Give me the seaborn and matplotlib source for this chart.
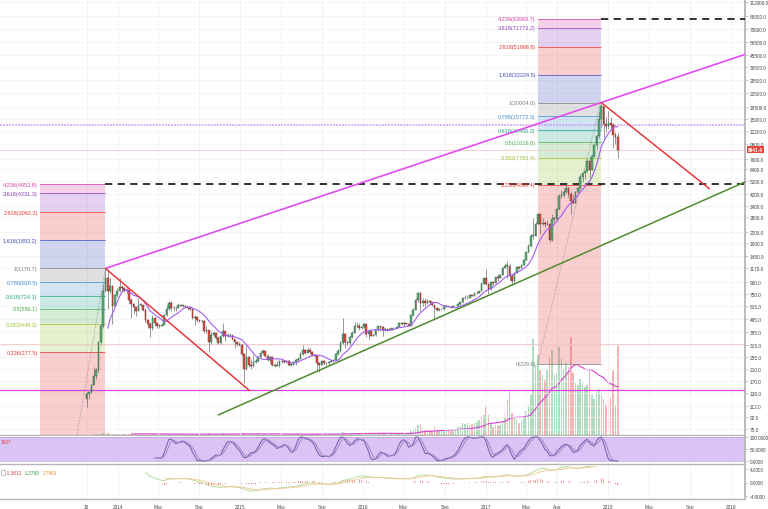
import numpy as np
import pandas as pd
import matplotlib
matplotlib.use("Agg")
import matplotlib.pyplot as plt
import matplotlib.dates as mdates
from matplotlib.ticker import FixedLocator, FixedFormatter, NullLocator
import seaborn as sns

# ---------------- data (weekly BTC/USD, week start Monday) ----------------
FIRST_WEEK = "2013-09-30"
FIRST_OPEN = 125.0

CLOSE = [
    # 2013
    137, 140, 160, 185, 205, 330, 440, 800, 1000, 790, 870, 620, 740, 800,
    # 2014
    850, 830, 800, 810, 680, 640, 600, 560, 630, 630, 575, 480, 450, 420, 500, 460, 440, 440, 445, 525,
    580, 650, 590, 595, 590, 630, 620, 620, 600, 590, 585, 500, 510, 480, 475, 475, 400, 410, 330, 375,
    390, 355, 325, 365, 400, 365, 375, 375, 350, 330, 320, 315,
    # 2015
    270, 210, 255, 225, 220, 235, 240, 255, 275, 285, 260, 245, 255, 223, 222, 225, 240, 240, 237, 240,
    225, 225, 235, 245, 250, 270, 290, 275, 290, 280, 265, 260, 230, 225, 240, 230, 230, 235, 240, 245,
    270, 285, 325, 380, 330, 325, 360, 390, 435, 440, 420, 430,
    # 2016
    450, 380, 400, 370, 375, 405, 435, 430, 410, 415, 410, 415, 420, 420, 430, 460, 450, 460, 455, 440,
    525, 575, 680, 765, 650, 670, 650, 665, 660, 625, 590, 570, 580, 580, 605, 610, 605, 600, 612, 615,
    640, 655, 700, 700, 705, 740, 730, 765, 770, 790, 900, 995,
    # 2017
    900, 820, 920, 915, 1010, 995, 1050, 1180, 1230, 1230, 1020, 950, 1085, 1200, 1180, 1250, 1350, 1550,
    1730, 2050, 2050, 2500, 2950, 2500, 2550, 2500, 2500, 1900, 2750, 2750, 3250, 4050, 4100, 4350, 4600,
    4200, 3700, 3600, 4350, 4600, 5600, 5950, 6150, 7400, 6300, 8000, 9700, 11200, 15000, 19000, 13800, 13500,
    # 2018
    14200, 13600, 11500, 11100, 8941.4,
]
HIGH = [
    140, 142, 162, 215, 212, 340, 450, 900, 1170.7, 1150, 1000, 880, 760, 830,
    1000, 880, 850, 830, 830, 700, 650, 600, 700, 650, 630, 585, 490, 470, 530, 510, 460, 450, 450, 530,
    630, 670, 665, 610, 605, 645, 635, 630, 625, 600, 595, 590, 525, 515, 485, 485, 480, 440, 410, 400,
    400, 390, 365, 370, 460, 400, 390, 385, 375, 350, 335, 330,
    320, 275, 310, 260, 245, 265, 250, 260, 290, 296, 290, 270, 260, 260, 230, 238, 245, 248, 244, 245,
    242, 230, 238, 250, 258, 282, 315, 295, 305, 298, 285, 270, 260, 235, 245, 245, 235, 240, 245, 250,
    275, 295, 335, 500, 390, 340, 370, 400, 470, 465, 460, 435,
    460, 455, 410, 400, 380, 410, 440, 440, 440, 420, 420, 420, 425, 425, 432, 465, 468, 465, 460, 458,
    530, 590, 700, 780, 780, 700, 700, 690, 680, 660, 625, 600, 585, 585, 610, 630, 612, 610, 615, 620,
    645, 660, 720, 745, 740, 750, 745, 770, 775, 795, 920, 1000,
    1150, 910, 930, 925, 1030, 1060, 1065, 1190, 1290, 1320, 1260, 1060, 1090, 1210, 1220, 1265, 1355, 1560,
    1790, 2100, 2760, 2570, 2990, 2980, 2780, 2640, 2700, 2550, 2950, 2800, 3300, 4200, 4480, 4450, 4980,
    4750, 4400, 4100, 4400, 4650, 5850, 6000, 6200, 7600, 7900, 8100, 9800, 11400, 17000, 20004, 19000, 15600,
    17200, 15500, 14100, 12000, 11800,
]
LOW = [
    110, 125, 138, 160, 175, 200, 315, 420, 780, 580, 770, 455, 610, 720,
    780, 790, 780, 770, 650, 500, 540, 520, 560, 610, 560, 470, 420, 360, 410, 440, 420, 420, 435, 445,
    520, 575, 560, 560, 565, 590, 610, 605, 590, 575, 575, 490, 445, 470, 465, 465, 390, 390, 280, 320,
    370, 350, 320, 320, 360, 340, 360, 360, 345, 300, 310, 310,
    260, 165, 205, 215, 210, 215, 230, 235, 255, 270, 255, 240, 235, 220, 215, 220, 218, 232, 232, 233,
    222, 220, 225, 225, 240, 250, 265, 270, 275, 275, 260, 255, 200, 200, 225, 225, 225, 225, 235, 235,
    245, 265, 280, 320, 300, 315, 315, 355, 385, 430, 410, 415,
    425, 360, 350, 365, 365, 370, 400, 400, 370, 400, 405, 405, 410, 415, 420, 428, 445, 440, 450, 435,
    440, 520, 570, 660, 560, 620, 620, 640, 650, 620, 480, 565, 565, 570, 570, 600, 600, 590, 600, 605,
    615, 630, 650, 690, 690, 700, 725, 725, 755, 765, 790, 890,
    880, 750, 810, 880, 915, 940, 985, 1050, 1170, 1000, 960, 890, 930, 1075, 1160, 1180, 1245, 1350,
    1530, 1700, 1950, 2040, 2500, 2100, 2480, 2360, 2450, 1850, 1880, 2600, 2650, 3200, 3900, 3980, 4300,
    4000, 2970, 3550, 3600, 4150, 4500, 5100, 5400, 6100, 5500, 6300, 7900, 9000, 11000, 13000, 11000, 12000,
    12800, 12800, 9200, 9900, 7740,
]
VOLUME = [
    0.3, 0.3, 0.4, 0.5, 0.5, 0.8, 1.0, 1.5, 1.8, 1.6, 1.2, 1.4, 0.9, 0.8,
    1.2, 1.0, 0.9, 0.9, 1.1, 1.6, 1.3, 1.1, 1.0, 0.8, 0.9, 1.1, 1.0, 1.3, 1.2, 0.9, 0.8, 0.7, 0.6, 0.9,
    1.1, 1.2, 1.0, 0.8, 0.7, 0.7, 0.6, 0.6, 0.6, 0.6, 0.6, 0.9, 1.0, 0.8, 0.7, 0.7, 1.2, 1.1, 1.6, 1.4,
    1.0, 0.9, 1.0, 1.2, 1.5, 1.1, 0.9, 0.8, 0.9, 1.1, 0.9, 0.8,
    1.3, 2.4, 1.9, 1.2, 1.0, 1.0, 0.9, 0.9, 1.1, 1.0, 1.0, 0.9, 0.8, 1.0, 0.8, 0.7, 0.8, 0.7, 0.7, 0.6,
    0.7, 0.7, 0.7, 0.8, 0.9, 1.1, 1.4, 1.2, 1.0, 0.9, 0.9, 0.8, 1.6, 1.2, 0.9, 0.8, 0.7, 0.7, 0.8, 0.9,
    1.1, 1.3, 1.8, 3.2, 2.4, 1.5, 1.4, 1.6, 2.0, 1.8, 1.5, 1.3,
    1.6, 2.2, 2.0, 1.6, 1.4, 1.5, 1.6, 1.7, 1.8, 1.5, 1.4, 1.3, 1.3, 1.3, 1.4, 1.8, 1.7, 1.6, 1.6, 1.6,
    3.5, 4.5, 7.0, 10.0, 11.0, 6.5, 5.0, 5.5, 4.5, 4.0, 7.5, 5.0, 4.0, 3.5, 4.0, 4.0, 3.5, 3.5, 3.5, 6.0,
    8.0, 9.0, 12.0, 11.0, 12.0, 10.0, 11.0, 12.0, 13.0, 15.0, 18.0, 20.0,
    28, 20, 12, 8, 10, 9, 10, 14, 18, 35, 45, 22, 18, 16, 12, 14, 18, 24, 30, 40, 96, 70, 80, 65, 60, 55,
    65, 78, 85, 60, 62, 88, 78, 65, 72, 68, 98, 62, 52, 50, 56, 52, 48, 50, 66, 40, 36, 45, 46, 40, 36, 30,
    35, 38, 64, 30, 91,
]

PRICE_TICKS = [75, 92, 112, 138, 170, 210, 255, 315, 395, 495, 615, 750, 930, 1170, 1450, 1800, 2200,
               2800, 3400, 4200, 5200, 6400, 7600, 9800, 12200, 15000, 18500, 23500, 29500, 36500,
               45500, 56500, 70600, 88000, 112000]
LAST_PRICE = 8941.4

X_TICK_DATES = ["2013-09-30", "2014-01-01", "2014-05-01", "2014-09-01", "2015-01-01", "2015-05-01",
                "2015-09-01", "2016-01-01", "2016-05-01", "2016-09-01", "2017-01-01", "2017-05-01",
                "2017-08-01", "2018-01-01", "2018-05-01", "2018-09-01", "2019-01-01"]
X_TICK_LABELS = ["30", "2014", "May", "Sep", "2015", "May", "Sep", "2016", "May", "Sep", "2017",
                 "May", "Aug", "2018", "May", "Sep", "2019"]
X_RANGE = ("2013-01-15", "2019-02-12")

FIB_RATIOS = ["0", "0.236", "0.382", "0.5", "0.618", "0.786", "1", "1.618", "2.618", "3.618", "4.236"]
FIB_COLORS = ["#808080", "#e53935", "#9bc232", "#4caf50", "#26a68a", "#3f8fd2", "#808080",
              "#3f4fbf", "#e53935", "#9040c0", "#d6409f"]
LEFT_FIB_PRICES = [1.6, 277.5, 448.2, 586.1, 724.1, 920.5, 1170.7, 1893.2, 3062.2, 4231.3, 4953.8]
RIGHT_FIB_PRICES = [229.6, 4896.4, 7783.4, 10116.8, 12450.2, 15772.3, 20004.0, 32224.5, 51998.8,
                    71773.2, 83993.7]
LEFT_FIB_SPAN = ("2013-05-13", "2013-11-25")
RIGHT_FIB_SPAN = ("2017-06-05", "2017-12-09")

TREND_MAGENTA = (["2013-11-25", "2019-02-12"], [1170.7, 45600])
TREND_RED_1 = (["2013-11-25", "2015-01-29"], [1170.7, 144])
TREND_RED_2 = (["2017-12-11", "2018-10-30"], [20004.0, 4560])
TREND_GREEN = (["2014-10-26", "2019-02-12"], [95, 5140])
H_MAGENTA = 147
H_LAVENDER = 13620
H_PINK = 320

MACD_LEGEND = ["-1.3612", "1.3789", "2.7401"]
STOCH_LEGEND = "7637"

# ---------------- frame ----------------
def dn(s):
    return mdates.date2num(pd.Timestamp(s))

dates = pd.date_range(FIRST_WEEK, periods=len(CLOSE), freq="7D")
df = pd.DataFrame({"x": mdates.date2num(dates), "close": CLOSE, "high": HIGH, "low": LOW,
                   "vol": VOLUME})
df["open"] = df["close"].shift(1).fillna(FIRST_OPEN)
df["high"] = df[["high", "open", "close"]].max(axis=1)
df["low"] = df[["low", "open", "close"]].min(axis=1)
df["up"] = df["close"] >= df["open"]
df["ma"] = df["close"].rolling(10).mean()
df["vma"] = df["vol"].rolling(20).mean()

delta = df["close"].diff()
gain = delta.clip(lower=0).ewm(alpha=1 / 14, adjust=False, min_periods=14).mean()
loss = (-delta.clip(upper=0)).ewm(alpha=1 / 14, adjust=False, min_periods=14).mean()
rsi = 100 - 100 / (1 + gain / loss)
rlo, rhi = rsi.rolling(14).min(), rsi.rolling(14).max()
stoch = 100 * (rsi - rlo) / (rhi - rlo)
df["k"] = stoch.rolling(3).mean()
df["d"] = df["k"].rolling(3).mean()

lp = 14 * np.log(df["close"])
e12 = lp.ewm(span=12, adjust=False, min_periods=12).mean()
e26 = lp.ewm(span=26, adjust=False, min_periods=26).mean()
df["macd"] = e12 - e26
df["signal"] = df["macd"].ewm(span=9, adjust=False, min_periods=9).mean()
df["hist"] = df["macd"] - df["signal"]

# ---------------- figure ----------------
sns.set_theme(style="white")
plt.rcParams["font.family"] = ["Liberation Sans", "DejaVu Sans"]

W, H = 768, 510
fig = plt.figure(figsize=(W / 100, H / 100), dpi=100, facecolor="white")
right = 745 / W
ax = fig.add_axes([0, 1 - 436 / H, right, 436 / H])
ax_st = fig.add_axes([0, 1 - 465 / H, right, 28 / H], sharex=ax)
ax_md = fig.add_axes([0, 1 - 500 / H, right, 33 / H], sharex=ax)

# volume overlay axis (created first so the price axis keeps its right-hand ticks)
ax_v = ax.twinx()

TICK_FS = 3.4
AX_GRAY = "#b5b5b5"
GRID = "#f1f1f1"

for a in (ax, ax_st, ax_md):
    for s in ("top", "left"):
        a.spines[s].set_visible(False)
    a.spines["right"].set_color(AX_GRAY)
    a.spines["right"].set_linewidth(1.3)
    a.spines["bottom"].set_color(AX_GRAY)
    a.spines["bottom"].set_linewidth(1.0)
    a.yaxis.tick_right()
    a.yaxis.set_label_position("right")
    a.tick_params(axis="y", length=2, width=0.5, color=AX_GRAY, labelsize=TICK_FS,
                  labelcolor="#444444", pad=1.5, labelright=True, labelleft=False)
    a.tick_params(axis="x", length=2, width=0.5, color=AX_GRAY, labelsize=TICK_FS,
                  labelcolor="#444444", pad=1.5)
    a.set_xlim(dn(X_RANGE[0]), dn(X_RANGE[1]))

xt = [dn(d) for d in X_TICK_DATES]
for a in (ax, ax_st, ax_md):
    for v in xt:
        a.axvline(v, color=GRID, lw=0.6, zorder=0)
ax_md.xaxis.set_major_locator(FixedLocator(xt))
ax_md.xaxis.set_major_formatter(FixedFormatter(X_TICK_LABELS))
ax.tick_params(axis="x", labelbottom=False, length=0)
ax_st.tick_params(axis="x", labelbottom=False, length=0)

# ---- main price pane ----
ax.set_yscale("log")
ax.set_ylim(67.6, 117800)
ax.yaxis.set_major_locator(FixedLocator(PRICE_TICKS))
ax.yaxis.set_major_formatter(FixedFormatter([f"{v:.1f}" for v in PRICE_TICKS]))
ax.yaxis.set_minor_locator(NullLocator())
for v in PRICE_TICKS:
    ax.axhline(v, color=GRID, lw=0.5, zorder=0)
ax.patch.set_visible(False)

# volume (drawn beneath the price drawings)
ax_v.set_zorder(ax.get_zorder() - 1)
ax_v.patch.set_visible(False)
ax_v.set_ylim(0, 436)
ax_v.set_yticks([])
for s in ax_v.spines.values():
    s.set_visible(False)
vcol = np.where(df["up"], "#9fd8b2", "#f5a5a5")
ax_v.bar(df["x"], df["vol"], width=4.6, color=vcol, alpha=0.85, linewidth=0)
sns.lineplot(x=df["x"], y=df["vma"], ax=ax_v, color="#d63fd6", linewidth=0.8, estimator=None)
ax_v.set_xlabel(""); ax_v.set_ylabel("")

# fibonacci boxes
def fib_box(span, prices, show_zero_label):
    x0, x1 = dn(span[0]), dn(span[1])
    for i in range(1, len(prices)):
        ax.fill_between([x0, x1], prices[i - 1], prices[i], color=FIB_COLORS[i], alpha=0.24,
                        linewidth=0, zorder=1)
    for i, p in enumerate(prices):
        if i == 0 and not show_zero_label:
            continue
        ax.plot([x0, x1], [p, p], color=FIB_COLORS[i], lw=0.6, alpha=0.85, zorder=1.5)
        ax.annotate(f"{FIB_RATIOS[i]}({p:.1f})", xy=(x0, p), xytext=(-1.5, 0),
                    textcoords="offset points", ha="right", va="center", fontsize=4.0,
                    color=FIB_COLORS[i], zorder=5)
    ax.plot([x0, x1], [prices[0], prices[6]], color="#9a9a9a", lw=0.5, ls=(0, (2, 1.5)),
            zorder=1.6)
    ax.plot([x1, dn(X_RANGE[1])], [prices[-1], prices[-1]], color="#222222", lw=1.3,
            ls=(0, (4, 3)), zorder=4)

fib_box(LEFT_FIB_SPAN, LEFT_FIB_PRICES, False)
fib_box(RIGHT_FIB_SPAN, RIGHT_FIB_PRICES, True)

# horizontal lines
ax.axhline(H_LAVENDER, color="#c79af2", lw=1.1, ls=(0, (1.2, 0.8)), zorder=3)
ax.axhline(H_MAGENTA, color="#e040e8", lw=0.9, zorder=3)
ax.axhline(H_PINK, color="#f3c4c4", lw=0.6, zorder=2)
ax.axhline(LAST_PRICE, color="#f6c9c4", lw=0.6, zorder=2)

# candles
up = df[df["up"]]
dnn = df[~df["up"]]
ax.vlines(df["x"], df["low"], df["high"], color="#6f6f6f", lw=0.5, zorder=6)
for part, fc, ec in ((up, "#5fae7a", "#1f5a34"), (dnn, "#d9534a", "#6b1a14")):
    body_lo = part[["open", "close"]].min(axis=1)
    body_hi = part[["open", "close"]].max(axis=1)
    hgt = np.maximum(body_hi - body_lo, body_lo * 0.006)
    ax.bar(part["x"], hgt, bottom=body_lo, width=4.8, color=fc, edgecolor=ec, linewidth=0.3,
           zorder=7)
sns.lineplot(x=df["x"], y=df["ma"], ax=ax, color="#a35cf0", linewidth=0.8, estimator=None,
             zorder=8)
ax.set_xlabel(""); ax.set_ylabel("")

# trend lines
for (ds, ps), col, lw in ((TREND_MAGENTA, "#e34cf0", 1.2), (TREND_RED_1, "#e8383d", 1.1),
                          (TREND_RED_2, "#e8383d", 1.1), (TREND_GREEN, "#4f8a2e", 1.1)):
    ax.plot([dn(d) for d in ds], ps, color=col, lw=lw, zorder=9, solid_capstyle="butt")

# last price tag
ax.annotate(f"{LAST_PRICE:.1f}", xy=(1.0, LAST_PRICE), xycoords=("axes fraction", "data"),
            xytext=(2.2, 0), textcoords="offset points", ha="left", va="center",
            fontsize=TICK_FS, color="white", fontweight="bold", annotation_clip=False,
            bbox=dict(boxstyle="square,pad=0.25", fc="#e5473c", ec="none"), zorder=20)

# ---- stochastic RSI pane ----
ax_st.set_ylim(-12.5, 104.2)
ax_st.axhspan(0, 100, color="#dcc3f5", lw=0, zorder=0.5)
ax_st.axhline(100, color="#b9a6d6", lw=0.5, zorder=1)
ax_st.axhline(0, color="#b9a6d6", lw=0.5, zorder=1)
sns.lineplot(x=df["x"], y=df["k"], ax=ax_st, color="#6f5aa8", linewidth=0.7, estimator=None)
sns.lineplot(x=df["x"], y=df["d"], ax=ax_st, color="#9a88c6", linewidth=0.7, estimator=None)
ax_st.set_yticks([0, 50, 100])
ax_st.set_yticklabels(["0.0000", "50.0000", "100.0000"])
ax_st.set_xlabel(""); ax_st.set_ylabel("")
ax_st.text(0.001, 0.8, STOCH_LEGEND, transform=ax_st.transAxes, fontsize=TICK_FS,
           color="#e53935", va="center", ha="left")

# ---- MACD pane ----
ax_md.set_ylim(-4.9, 4.9)
hcol = np.where(df["hist"] >= 0, "#f3a0a0", "#ef7f7f")
ax_md.bar(df["x"], df["hist"], width=2.2, color=hcol, linewidth=0, zorder=2)
sns.lineplot(x=df["x"], y=df["macd"], ax=ax_md, color="#b7dd9f", linewidth=0.7, estimator=None)
sns.lineplot(x=df["x"], y=df["signal"], ax=ax_md, color="#f2cd98", linewidth=0.7,
             estimator=None)
ax_md.set_yticks([-4, 0, 4])
ax_md.set_yticklabels(["-4.0000", "0.0000", "4.0000"])
ax_md.set_xlabel(""); ax_md.set_ylabel("")
for txt, col, xo in zip(MACD_LEGEND, ["#e53935", "#3c9a3c", "#f08c1a"], [6, 25, 43]):
    ax_md.text(xo / 745, 0.8, txt, transform=ax_md.transAxes, fontsize=TICK_FS, color=col,
               va="center", ha="left")
ax_md.add_patch(plt.Rectangle((0.0015, 0.72), 0.005, 0.16, transform=ax_md.transAxes,
                              fill=False, ec="#999999", lw=0.4))

fig.savefig("out.png", dpi=100, facecolor="white")
